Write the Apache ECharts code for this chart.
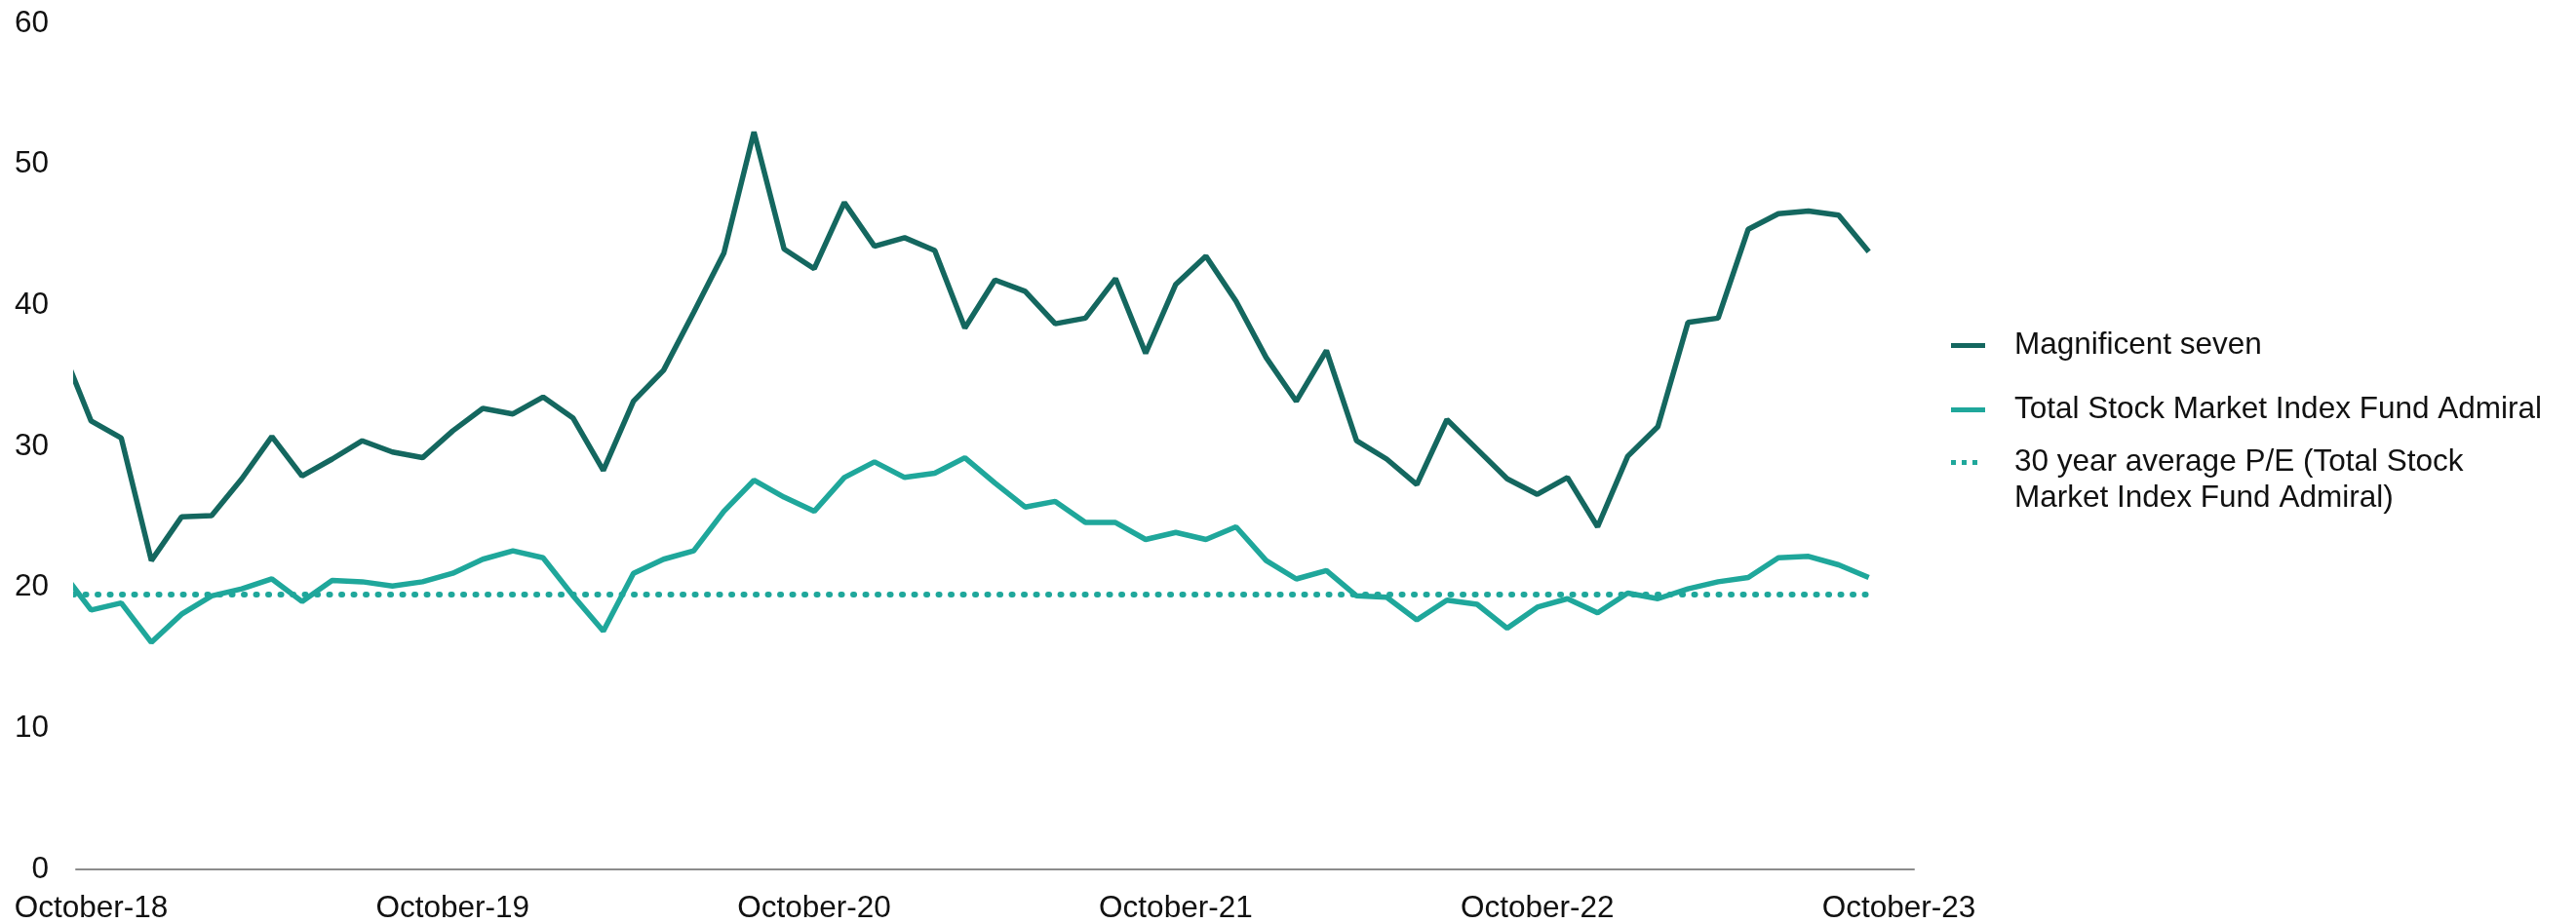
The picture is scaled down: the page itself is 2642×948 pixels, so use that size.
<!DOCTYPE html>
<html>
<head>
    <meta charset="utf-8">
    <title>P/E ratios</title>
    <script src="https://cdn.jsdelivr.net/npm/echarts@6/dist/echarts.min.js"></script>
    <style>
        html, body { margin: 0; padding: 0; background: #fff; }
        #main { width: 2642px; height: 948px; }
    </style>
</head>
<body>
<div id="main"></div>
<script type="text/javascript">
    // monthly points, Sep-18 .. Sep-23 (Sep-18 sits just left of the plot and gets clipped)
    var months = [
        'Sep-18','Oct-18','Nov-18','Dec-18','Jan-19','Feb-19','Mar-19','Apr-19','May-19','Jun-19','Jul-19','Aug-19','Sep-19',
        'Oct-19','Nov-19','Dec-19','Jan-20','Feb-20','Mar-20','Apr-20','May-20','Jun-20','Jul-20','Aug-20','Sep-20',
        'Oct-20','Nov-20','Dec-20','Jan-21','Feb-21','Mar-21','Apr-21','May-21','Jun-21','Jul-21','Aug-21','Sep-21',
        'Oct-21','Nov-21','Dec-21','Jan-22','Feb-22','Mar-22','Apr-22','May-22','Jun-22','Jul-22','Aug-22','Sep-22',
        'Oct-22','Nov-22','Dec-22','Jan-23','Feb-23','Mar-23','Apr-23','May-23','Jun-23','Jul-23','Aug-23','Sep-23'
    ];
    var magSeven = [
        37.1, 31.8, 30.6, 21.9, 25.0, 25.1, 27.7, 30.7, 27.9, 29.1, 30.4, 29.6, 29.2,
        31.1, 32.7, 32.3, 33.5, 32.0, 28.3, 33.2, 35.4, 39.5, 43.7, 52.3, 44.0,
        42.6, 47.3, 44.2, 44.8, 43.9, 38.4, 41.8, 41.0, 38.7, 39.1, 41.9, 36.6,
        41.5, 43.5, 40.3, 36.3, 33.2, 36.8, 30.4, 29.1, 27.3, 31.9, 29.8, 27.7,
        26.6, 27.8, 24.3, 29.3, 31.4, 38.8, 39.1, 45.4, 46.5, 46.7, 46.4, 43.8
    ];
    var totalMarket = [
        21.2, 18.4, 18.9, 16.1, 18.1, 19.4, 19.9, 20.6, 19.0, 20.5, 20.4, 20.1, 20.4,
        21.0, 22.0, 22.6, 22.1, 19.4, 16.9, 21.0, 22.0, 22.6, 25.4, 27.6, 26.4,
        25.4, 27.8, 28.9, 27.8, 28.1, 29.2, 27.4, 25.7, 26.1, 24.6, 24.6, 23.4,
        23.9, 23.4, 24.3, 21.9, 20.6, 21.2, 19.4, 19.3, 17.7, 19.1, 18.8, 17.1,
        18.6, 19.2, 18.2, 19.6, 19.2, 19.9, 20.4, 20.7, 22.1, 22.2, 21.6, 20.7
    ];
    var avgPE = 19.5;
    var tickLabels = ['October-18', 'October-19', 'October-20', 'October-21', 'October-22', 'October-23'];

    var names = [
        'Magnificent seven',
        'Total Stock Market Index Fund Admiral',
        '30 year average P/E (Total Stock Market Index Fund Admiral)'
    ];
    var darkTeal = '#14675f';
    var lightTeal = '#1fa79b';
    var font = "'Liberation Sans', Arial, sans-serif";

    // x = months since Oct-18
    function toPoints(vals) {
        return vals.map(function (v, i) { return [i - 1, v]; });
    }
    var tickValues = tickLabels.map(function (t, i) { return i * 12; });

    function legendText(padLeft) {
        return { color: '#111', fontFamily: font, fontSize: 31.5, lineHeight: 37, padding: [0, 0, 0, padLeft] };
    }

    var myChart = echarts.init(document.getElementById('main'));
    myChart.setOption({
        animation: false,
        grid: { left: 78, right: 679, top: 24, bottom: 53, containLabel: false },
        legend: [
            {
                data: [names[0]], left: 2001, top: 336, padding: 0,
                icon: 'rect', itemWidth: 35, itemHeight: 5,
                textStyle: legendText(25)
            },
            {
                data: [names[1]], left: 2001, top: 402, padding: 0,
                icon: 'rect', itemWidth: 35, itemHeight: 5,
                textStyle: legendText(25)
            },
            {
                // blank first line keeps the symbol level with the first text line
                data: [names[2]], left: 2001, top: 419, padding: 0,
                icon: 'path://M0,0h5v5h-5z M11,0h5v5h-5z M22,0h5v5h-5z',
                itemWidth: 27, itemHeight: 5,
                formatter: function () { return ' \n30 year average P/E (Total Stock\nMarket Index Fund Admiral)'; },
                textStyle: legendText(33)
            }
        ],
        xAxis: {
            type: 'value',
            min: -0.5,
            max: 60.5,
            axisLine: { show: true, lineStyle: { color: '#8c8c8c', width: 2 } },
            axisTick: { show: false },
            splitLine: { show: false },
            axisLabel: {
                customValues: tickValues,
                margin: 24,
                color: '#111', fontFamily: font, fontSize: 31.5,
                formatter: function (v) { return tickLabels[Math.round(v / 12)]; }
            }
        },
        yAxis: {
            type: 'value',
            min: 0,
            max: 60,
            interval: 10,
            axisLine: { show: false },
            axisTick: { show: false },
            splitLine: { show: false },
            axisLabel: { margin: 28, color: '#111', fontFamily: font, fontSize: 31.5 }
        },
        series: [
            {
                name: names[0], type: 'line', symbol: 'none', clip: true,
                lineStyle: { color: darkTeal, width: 5.5 }, itemStyle: { color: darkTeal },
                data: toPoints(magSeven)
            },
            {
                name: names[1], type: 'line', symbol: 'none', clip: true,
                lineStyle: { color: lightTeal, width: 5.5 }, itemStyle: { color: lightTeal },
                data: toPoints(totalMarket)
            },
            {
                name: names[2], type: 'line', symbol: 'none', clip: true,
                lineStyle: { color: lightTeal, width: 6, type: [1, 11.5], cap: 'round' },
                itemStyle: { color: lightTeal },
                data: toPoints(months.map(function () { return avgPE; }))
            }
        ]
    });
</script>
</body>
</html>
